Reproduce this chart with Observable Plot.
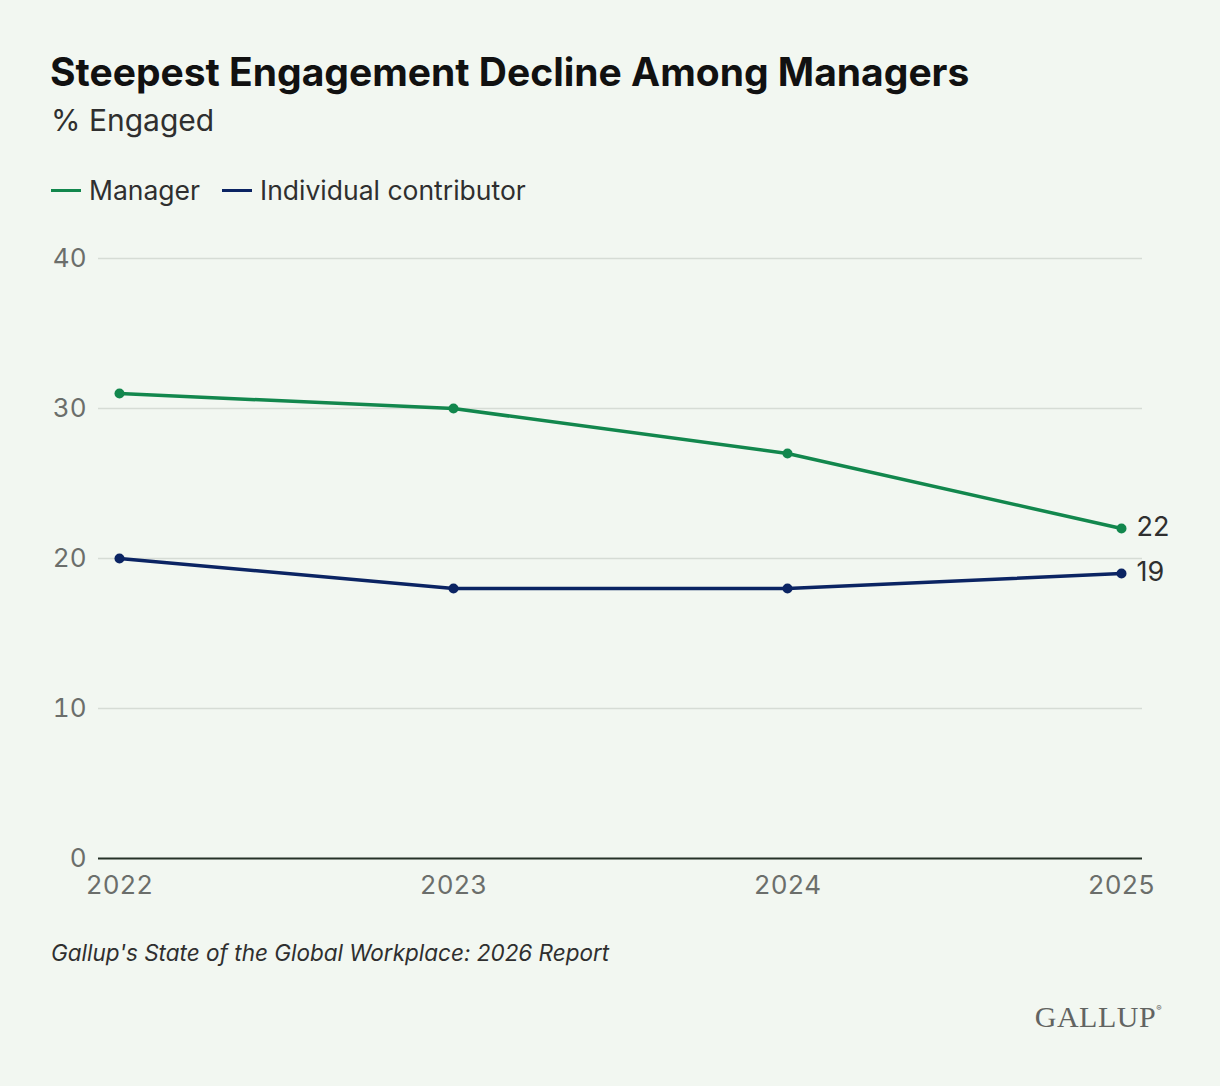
<!DOCTYPE html>
<html>
<head>
<meta charset="utf-8">
<script src="https://cdn.jsdelivr.net/npm/d3@7"></script>
<script src="https://cdn.jsdelivr.net/npm/@observablehq/plot@0.6"></script>
<style>
  html, body { margin: 0; padding: 0; background: #f2f7f1; }
  body { width: 1220px; height: 1086px; position: relative; overflow: hidden; font-family: Inter, "Noto Sans", sans-serif; }
  .abs { position: absolute; white-space: nowrap; }
  #title { left: 50px; top: 48px; font-size: 39px; font-weight: 700; color: #111; }
  #subtitle { left: 51px; top: 102px; font-size: 30px; color: #2f2f2f; }
  #legend { left: 51px; top: 174px; font-size: 26.5px; color: #2f2f2f; display: flex; align-items: center; }
  .sw { display: inline-block; width: 30px; height: 3px; margin-right: 8px; }
  .item { display: flex; align-items: center; margin-right: 22px; }
  #chart { left: 0; top: 230px; }
  #caption { left: 51px; top: 939px; font-size: 22.5px; font-style: italic; color: #2f2f2f; }
  #logo { right: 58px; top: 1000px; font-family: "Liberation Serif", "DejaVu Serif", serif; font-size: 30px; color: #626462; letter-spacing: 0.5px; }
  #logo sup { font-size: 8px; vertical-align: 16px; font-family: Inter, sans-serif; }
</style>
</head>
<body>
<div id="title" class="abs">Steepest Engagement Decline Among Managers</div>
<div id="subtitle" class="abs">% Engaged</div>
<div id="legend" class="abs"></div>
<div id="chart" class="abs"></div>
<div id="caption" class="abs">Gallup's State of the Global Workplace: 2026 Report</div>
<div id="logo" class="abs">GALLUP<sup>®</sup></div>
<script>
const years = [2022, 2023, 2024, 2025];
const managerValues = [31, 30, 27, 22];
const individualValues = [20, 18, 18, 19];
const seriesNames = ["Manager", "Individual contributor"];
const seriesColors = ["#12874d", "#0b2463"];
const yTicks = [0, 10, 20, 30, 40];

const rows = [];
years.forEach((yr, i) => {
  rows.push({ year: yr, value: managerValues[i], series: seriesNames[0] });
  rows.push({ year: yr, value: individualValues[i], series: seriesNames[1] });
});
const lastYear = years[years.length - 1];

// legend
const legend = document.getElementById("legend");
seriesNames.forEach((name, i) => {
  const it = document.createElement("span");
  it.className = "item";
  it.innerHTML = `<span class="sw" style="background:${seriesColors[i]}"></span><span>${name}</span>`;
  legend.appendChild(it);
});

const chart = Plot.plot({
  width: 1220,
  height: 690,
  marginLeft: 98,
  marginRight: 78,
  marginTop: 28,
  marginBottom: 62,
  style: { fontFamily: "Inter, 'Noto Sans', sans-serif", background: "transparent", overflow: "visible" },
  x: { type: "linear", domain: [years[0], lastYear], insetLeft: 21, insetRight: 21 },
  y: { domain: [0, 40] },
  color: { domain: seriesNames, range: seriesColors },
  marks: [
    Plot.gridY(yTicks.filter(d => d > 0), { stroke: "#d6dcd5", strokeOpacity: 1, strokeWidth: 1.5 }),
    Plot.axisY({ ticks: yTicks, tickSize: 0, tickPadding: 12, fontSize: 26, fill: "#6b6e6b", label: null }),
    Plot.axisX({ ticks: years, tickFormat: d => String(d), tickSize: 0, tickPadding: 17, fontSize: 26, fill: "#6b6e6b", label: null }),
    Plot.ruleY([0], { stroke: "#263228", strokeWidth: 2 }),
    Plot.line(rows, { x: "year", y: "value", z: "series", stroke: "series", strokeWidth: 3.5 }),
    Plot.dot(rows, { x: "year", y: "value", fill: "series", r: 5 }),
    Plot.text(rows.filter(d => d.year === lastYear), { x: "year", y: "value", text: d => String(d.value), dx: 15, dy: -1, textAnchor: "start", fontSize: 27, fill: "#2f2f2f" })
  ]
});
document.getElementById("chart").appendChild(chart);
</script>
</body>
</html>
